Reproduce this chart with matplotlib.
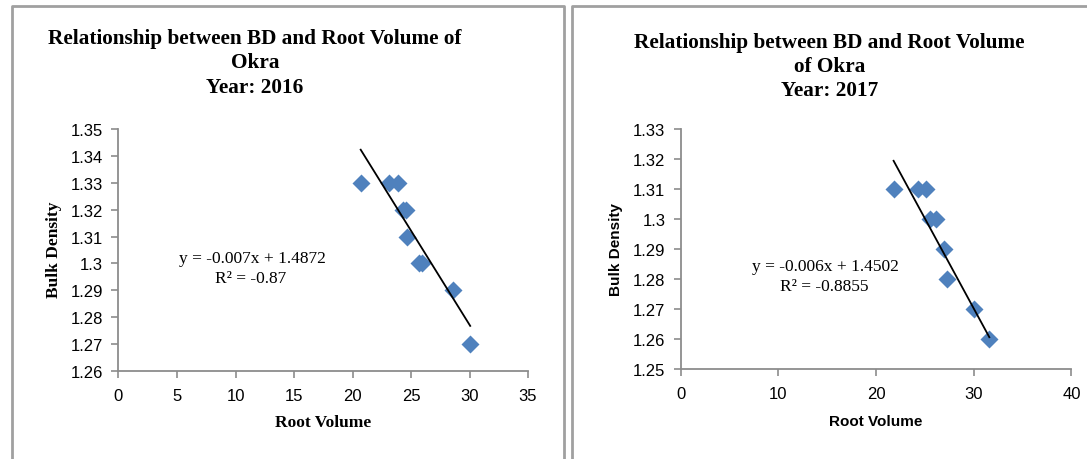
import matplotlib
matplotlib.use('Agg')
import matplotlib.pyplot as plt
import numpy as np

# Data

rv_2016 = [20.7, 23.1, 23.9, 24.35, 24.6, 24.7, 25.7, 25.9, 28.6, 30.06]
bd_2016 = [1.33, 1.33, 1.33, 1.32, 1.32, 1.31, 1.30, 1.30, 1.29, 1.27]
slope_2016, icpt_2016, r2_2016 = -0.007, 1.4872, '-0.87'

rv_2017 = [21.8, 24.3, 25.07, 25.5, 26.1, 27.0, 27.3, 30.07, 31.6]
bd_2017 = [1.31, 1.31, 1.31, 1.30, 1.30, 1.29, 1.28, 1.27, 1.26]
slope_2017, icpt_2017, r2_2017 = -0.006, 1.4502, '-0.8855'

W, H = 1087, 460
blue = '#4F81BD'
grey = '#8C8C8C'
serif = 'Liberation Serif'
sans = 'Liberation Sans'

fig = plt.figure(figsize=(W / 100, H / 100), dpi=100)

def px(x, y):
    return x / W, 1 - y / H

def box(x0, y0, w, h):
    # pixel box -> axes rect
    return [x0 / W, (H - y0 - h) / H, w / W, h / H]

# panel frames
fig.add_artist(plt.Line2D([12 / W, 12 / W, 564 / W, 564 / W], [0, 1 - 6.5 / H, 1 - 6.5 / H, 0],
                          color='#A0A0A0', lw=2))
fig.add_artist(plt.Line2D([572 / W, 572 / W, 1.0], [0, 1 - 6.5 / H, 1 - 6.5 / H],
                          color='#A0A0A0', lw=2))

def panel(rect, x, y, slope, icpt, xmax, xstep, ylim, ystep):
    ax = fig.add_axes(rect)
    ax.scatter(x, y, marker='D', s=84, color=blue, linewidths=0, zorder=3)
    xs = np.array([min(x), max(x)])
    ax.plot(xs, slope * xs + icpt, color='black', lw=1.3, zorder=4)
    ax.set_xlim(0, xmax)
    ax.set_ylim(*ylim)
    ax.set_xticks(np.arange(0, xmax + 0.1, xstep))
    yt = np.round(np.arange(ylim[0], ylim[1] + 1e-9, ystep), 2)
    ax.set_yticks(yt)
    ax.set_yticklabels(['%g' % v for v in yt])
    for s in ['top', 'right']:
        ax.spines[s].set_visible(False)
    for s in ['left', 'bottom']:
        ax.spines[s].set_color(grey)
        ax.spines[s].set_linewidth(1.3)
    ax.tick_params(direction='out', length=5, width=1.2, color=grey,
                   labelsize=12)
    ax.tick_params(axis='x', pad=7)
    ax.tick_params(axis='y', pad=6)
    for lab in ax.get_xticklabels() + ax.get_yticklabels():
        lab.set_fontfamily(sans)
    return ax

panel(box(118.5, 130, 409.5, 242), rv_2016, bd_2016, slope_2016, icpt_2016,
      35, 5, (1.26, 1.35), 0.01)
panel(box(680.6, 130, 390.8, 240), rv_2017, bd_2017, slope_2017, icpt_2017,
      40, 10, (1.25, 1.33), 0.01)

# titles
title_2016 = ['Relationship between BD and Root Volume of', 'Okra', 'Year: 2016']
title_2017 = ['Relationship between BD and Root Volume', 'of Okra', 'Year: 2017']
for i, line in enumerate(title_2016):
    fig.text(*px(255, 39 + i * 24.5), line, ha='center', va='center',
             family=serif, weight='bold', fontsize=15.3)
for i, line in enumerate(title_2017):
    fig.text(*px(829.5, 43 + i * 24), line, ha='center', va='center',
             family=serif, weight='bold', fontsize=15.3)

# axis labels
fig.text(*px(323, 423), 'Root Volume', ha='center', va='center',
         family=serif, weight='bold', fontsize=12.5)
fig.text(*px(54, 250), 'Bulk Density', ha='center', va='center', rotation=90,
         family=serif, weight='bold', fontsize=12.5)
fig.text(*px(876, 422), 'Root Volume', ha='center', va='center',
         family=sans, weight='bold', fontsize=11)
fig.text(*px(616, 250), 'Bulk Density', ha='center', va='center', rotation=90,
         family=sans, weight='bold', fontsize=11)

# trendline equations
fig.text(*px(252, 259), 'y = %gx + %g' % (slope_2016, icpt_2016), ha='center', va='center',
         family=serif, fontsize=12.5)
fig.text(*px(251, 279), 'R² = ' + r2_2016, ha='center', va='center',
         family=serif, fontsize=12.5)
fig.text(*px(825, 267), 'y = %gx + %g' % (slope_2017, icpt_2017), ha='center', va='center',
         family=serif, fontsize=12.5)
fig.text(*px(824.5, 287), 'R² = ' + r2_2017, ha='center', va='center',
         family=serif, fontsize=12.5)

fig.savefig('out.png', dpi=100)
